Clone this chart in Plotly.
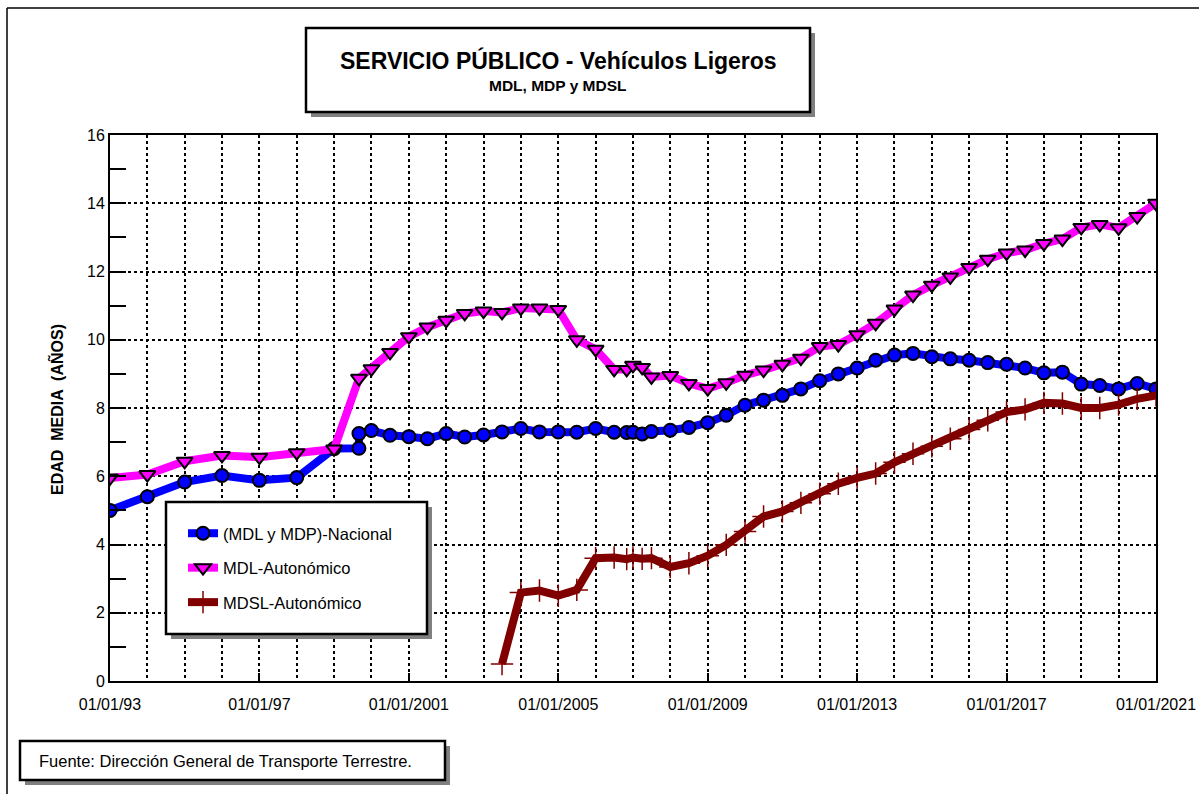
import plotly.graph_objects as go

# ---------------- data ----------------
fechas = [
    "1993-01-01", "1994-01-01", "1995-01-01", "1996-01-01", "1997-01-01", "1998-01-01",
    "1999-01-01", "1999-09-01", "2000-01-01", "2000-07-01", "2001-01-01", "2001-07-01",
    "2002-01-01", "2002-07-01", "2003-01-01", "2003-07-01", "2004-01-01", "2004-07-01",
    "2005-01-01", "2005-07-01", "2006-01-01", "2006-07-01", "2006-11-01", "2007-01-01",
    "2007-04-01", "2007-07-01", "2008-01-01", "2008-07-01", "2009-01-01", "2009-07-01",
    "2010-01-01", "2010-07-01", "2011-01-01", "2011-07-01", "2012-01-01", "2012-07-01",
    "2013-01-01", "2013-07-01", "2014-01-01", "2014-07-01", "2015-01-01", "2015-07-01",
    "2016-01-01", "2016-07-01", "2017-01-01", "2017-07-01", "2018-01-01", "2018-07-01",
    "2019-01-01", "2019-07-01", "2020-01-01", "2020-07-01", "2021-01-01",
]

# (MDL y MDP)-Nacional : has a double value (jump) at 1999-09-01
fechas_nacional = fechas[:8] + ["1999-09-01"] + fechas[8:]
nacional = [
    5.00, 5.40, 5.83, 6.02, 5.88, 5.96, 6.81, 6.82, 7.25, 7.34, 7.20, 7.16, 7.10,
    7.25, 7.15, 7.21, 7.30, 7.40, 7.30, 7.30, 7.29, 7.40, 7.29, 7.28, 7.29,
    7.24, 7.31, 7.35, 7.43, 7.57, 7.79, 8.08, 8.23, 8.37, 8.56, 8.80, 9.00,
    9.17, 9.40, 9.55, 9.60, 9.50, 9.44, 9.40, 9.33, 9.28, 9.17, 9.03, 9.05,
    8.70, 8.66, 8.56, 8.72, 8.56,
]

mdl_autonomico = [
    5.95, 6.05, 6.44, 6.61, 6.56, 6.69, 6.80, 8.87, 9.15, 9.63, 10.09, 10.37,
    10.57, 10.77, 10.84, 10.80, 10.93, 10.93, 10.89, 10.00, 9.72, 9.13, 9.13, 9.25,
    9.19, 8.91, 8.95, 8.72, 8.57, 8.74, 8.96, 9.11, 9.28, 9.46, 9.80, 9.86,
    10.15, 10.48, 10.90, 11.31, 11.60, 11.84, 12.12, 12.36, 12.54, 12.63, 12.82, 12.95,
    13.29, 13.38, 13.28, 13.61, 14.00,
]

fechas_mdsl = fechas[15:]
mdsl_autonomico = [
    0.50, 2.59, 2.65, 2.50, 2.67, 3.60, 3.62, 3.57, 3.62, 3.58, 3.60, 3.34, 3.45,
    3.67, 3.99, 4.38, 4.82, 4.97, 5.22, 5.49, 5.78, 5.95, 6.08, 6.41, 6.66,
    6.88, 7.10, 7.37, 7.64, 7.88, 7.96, 8.15, 8.13, 8.00, 8.00, 8.10, 8.27, 8.37,
]

tick_vals = ["1993-01-01", "1997-01-01", "2001-01-01", "2005-01-01",
             "2009-01-01", "2013-01-01", "2017-01-01", "2021-01-01"]
tick_text = ["01/01/93", "01/01/97", "01/01/2001", "01/01/2005",
             "01/01/2009", "01/01/2013", "01/01/2017", "01/01/2021"]

titulo = "SERVICIO PÚBLICO - Vehículos Ligeros"
subtitulo = "MDL, MDP y MDSL"
eje_y = "EDAD  MEDIA  (AÑOS)"
fuente = "Fuente: Dirección General de Transporte Terrestre."

# ---------------- layout geometry ----------------
W, H = 1199, 794
L, R, T, B = 110, 1156, 135, 681
FONT = "Liberation Sans, Arial, Helvetica, sans-serif"


def xp(px):
    return (px - L) / (R - L)


def yp(py):
    return (B - py) / (B - T)


fig = go.Figure()

fig.add_trace(go.Scatter(
    x=fechas_nacional, y=nacional, mode="lines+markers", name="(MDL y MDP)-Nacional",
    legendgroup="a",
    line=dict(color="#0000FF", width=8),
    marker=dict(symbol="circle", size=13, color="#0000FF", line=dict(color="black", width=2)),
))
fig.add_trace(go.Scatter(
    x=fechas, y=mdl_autonomico, mode="lines+markers", name="MDL-Autonómico",
    legendgroup="b",
    line=dict(color="#FF00FF", width=8),
    marker=dict(symbol="triangle-down", size=14, color="#FF00FF", line=dict(color="black", width=2)),
))
fig.add_trace(go.Scatter(
    x=fechas_mdsl, y=mdsl_autonomico, mode="lines+markers", name="MDSL-Autonómico",
    legendgroup="c",
    line=dict(color="#800000", width=8),
    marker=dict(symbol="cross-thin", size=16, color="#800000", line=dict(color="#800000", width=1.5)),
))

shapes = []


def box(x0, y0, x1, y1, sh=5, lw=2.5):
    shapes.append(dict(type="rect", xref="paper", yref="paper", layer="above",
                       x0=xp(x0 + sh), x1=xp(x1 + sh), y0=yp(y0 + sh), y1=yp(y1 + sh),
                       fillcolor="#808080", line=dict(width=0)))
    shapes.append(dict(type="rect", xref="paper", yref="paper", layer="above",
                       x0=xp(x0), x1=xp(x1), y0=yp(y0), y1=yp(y1),
                       fillcolor="white", line=dict(color="black", width=lw)))


box(306, 28, 810, 112)
box(166, 502, 427, 634)
box(20, 741, 445, 780)

# outer frame lines (top and left)
shapes.append(dict(type="line", xref="paper", yref="paper", x0=xp(7), x1=xp(1199), y0=yp(8), y1=yp(8),
                   line=dict(color="black", width=1.5)))
shapes.append(dict(type="line", xref="paper", yref="paper", x0=xp(7), x1=xp(7), y0=yp(8), y1=yp(794),
                   line=dict(color="black", width=1.5)))

annotations = [
    dict(text="<b>" + titulo + "</b>", x=xp(558), y=yp(60), xref="paper", yref="paper",
         showarrow=False, font=dict(family=FONT, size=23, color="black"), xanchor="center", yanchor="middle"),
    dict(text="<b>" + subtitulo + "</b>", x=xp(558), y=yp(85), xref="paper", yref="paper",
         showarrow=False, font=dict(family=FONT, size=15.5, color="black"), xanchor="center", yanchor="middle"),
    dict(text="<b>" + eje_y + "</b>", x=xp(56), y=yp(410), xref="paper", yref="paper", textangle=-90,
         showarrow=False, font=dict(family=FONT, size=16, color="black"), xanchor="center", yanchor="middle"),
    dict(text=fuente, x=xp(37), y=yp(761), xref="paper", yref="paper",
         showarrow=False, font=dict(family=FONT, size=16.5, color="black"), xanchor="left", yanchor="middle"),
]

fig.update_layout(
    width=W, height=H,
    margin=dict(l=L, r=W - R, t=T, b=H - B, autoexpand=False),
    paper_bgcolor="white", plot_bgcolor="white",
    font=dict(family=FONT, size=16, color="black"),
    showlegend=True,
    legend=dict(x=xp(183), y=yp(516), xanchor="left", yanchor="top", bgcolor="rgba(0,0,0,0)",
                borderwidth=0, font=dict(family=FONT, size=16.5, color="black"),
                itemwidth=30, tracegroupgap=10),
    shapes=shapes,
    annotations=annotations,
)

fig.update_xaxes(
    type="date", range=["1993-01-01", "2021-01-01"],
    tickmode="array", tickvals=tick_vals, ticktext=tick_text,
    ticks="inside", ticklen=8, tickwidth=1.5, tickcolor="black",
    showgrid=True, gridcolor="black", gridwidth=1.5, griddash="dot",
    minor=dict(tickmode="linear", tick0="1993-01-01", dtick="M12", showgrid=True,
               gridcolor="black", gridwidth=1.5, griddash="dot", ticks=""),
    showline=True, linecolor="black", linewidth=2, mirror=True,
    zeroline=False, ticklabelstandoff=8,
    tickfont=dict(family=FONT, size=16, color="black"),
)
fig.update_yaxes(
    range=[0, 16], tickmode="linear", tick0=0, dtick=2,
    ticks="inside", ticklen=16, tickwidth=1.5, tickcolor="black",
    showgrid=True, gridcolor="black", gridwidth=1.5, griddash="dot",
    minor=dict(tickmode="linear", tick0=0, dtick=1, ticks="inside", ticklen=16,
               tickwidth=1.5, tickcolor="black", showgrid=False),
    showline=True, linecolor="black", linewidth=2, mirror=True,
    zeroline=False,
    tickfont=dict(family=FONT, size=16, color="black"),
)

fig.write_html("out.html", config={"displayModeBar": False},
               post_script="document.body.style.margin='0px';")
